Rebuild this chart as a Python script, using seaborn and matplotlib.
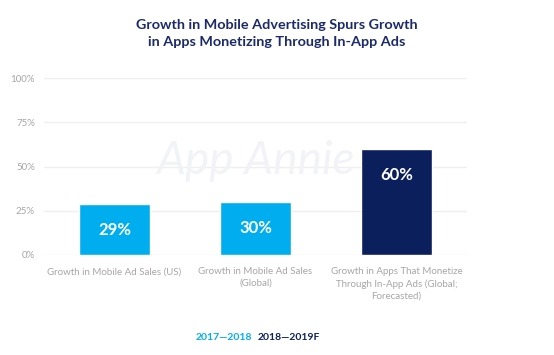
import matplotlib
matplotlib.use('Agg')
import pandas as pd
import seaborn as sns
import matplotlib.pyplot as plt

# Chart data
categories = ['Growth in Mobile Ad Sales (US)',
              'Growth in Mobile Ad Sales\n(Global)',
              'Growth in Apps That Monetize\nThrough In-App Ads (Global;\nForecasted)']
growth = [29, 30, 60]
periods = ['2017—2018', '2017—2018', '2018—2019F']
period_colors = {'2017—2018': '#00aeef', '2018—2019F': '#0b1f5c'}
yticks = [0, 25, 50, 75, 100]

df = pd.DataFrame({'category': categories, 'growth': growth, 'period': periods})

sns.set_style('white')
plt.rcParams['font.family'] = ['Lato', 'DejaVu Sans']

fig = plt.figure(figsize=(5.54, 3.55), dpi=100)
ax = fig.add_axes([44 / 554, 1 - 255 / 355, 423 / 554, 177 / 355])

sns.barplot(data=df, x='category', y='growth', hue='period', palette=period_colors,
            dodge=False, width=0.5, saturation=1, legend=False, ax=ax, zorder=3)

# Value labels inside bars
for i, v in enumerate(growth):
    ax.text(i, v - 15, f'{v}%', ha='center', va='center', color='white',
            fontsize=12, fontweight='bold', zorder=4)

ax.set_ylim(0, 100)
ax.set_xlim(-0.5, 2.5)
ax.set_yticks(yticks)
ax.set_yticklabels([f'{t}%' for t in yticks])
ax.yaxis.grid(True, color='#efefef', linewidth=1, zorder=0)
ax.set_xlabel('')
ax.set_ylabel('')
sns.despine(ax=ax, left=True, bottom=True)
ax.tick_params(axis='both', length=0, labelsize=7, labelcolor='#a6a6a6')
ax.tick_params(axis='x', pad=9)
ax.tick_params(axis='y', pad=6.5)
for lbl in ax.get_xticklabels():
    lbl.set_linespacing(1.35)

# Watermark
ax.text(1.0, 53, 'App Annie', ha='center', va='center', fontsize=33,
        style='italic', color='#f1f3f6', zorder=1)

# Title
fig.text(0.5, 1 - 25 / 355, 'Growth in Mobile Advertising Spurs Growth',
         ha='center', va='center', fontsize=10.4, fontweight='bold', color='#1b2a6b')
fig.text(0.5, 1 - 42 / 355, 'in Apps Monetizing Through In-App Ads',
         ha='center', va='center', fontsize=10.4, fontweight='bold', color='#1b2a6b')

# Legend as colored text
fig.text(252 / 554, 1 - 337 / 355, '2017—2018', ha='right', va='center',
         fontsize=7.5, fontweight='bold', color='#00aeef')
fig.text(258 / 554, 1 - 337 / 355, '2018—2019F', ha='left', va='center',
         fontsize=7.5, fontweight='bold', color='#0b1f5c')

plt.savefig('out.png', dpi=100)
